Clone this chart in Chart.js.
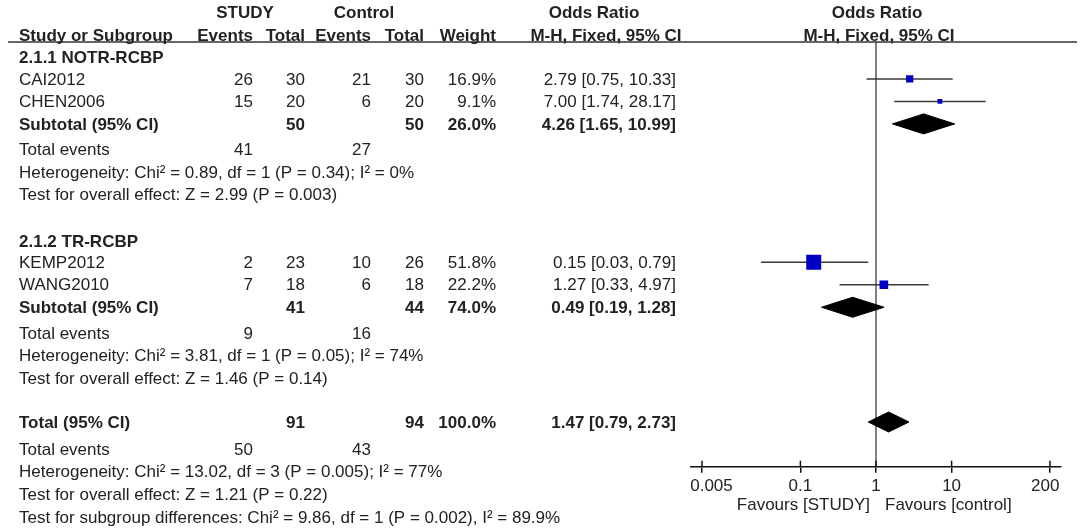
<!DOCTYPE html>
<html lang="en">
<head>
<meta charset="UTF-8">
<title>Forest plot - Odds Ratio</title>
<script src="https://cdn.jsdelivr.net/npm/chart.js"></script>
<style>
    html, body { margin: 0; padding: 0; background: #fff; }
    #wrap { width: 1084px; height: 530px; position: relative; }
</style>
</head>
<body>
<div id="wrap"><canvas id="forest"></canvas></div>

<script>
    // ---- data ----
    const studyNames = ['CAI2012', 'CHEN2006', 'KEMP2012', 'WANG2010'];
    const studyGroup = [0, 0, 1, 1];
    const studyEvents = [26, 15, 2, 7];
    const studyTotal = [30, 20, 23, 18];
    const controlEvents = [21, 6, 10, 6];
    const controlTotal = [30, 20, 26, 18];
    const weights = [16.9, 9.1, 51.8, 22.2];
    const oddsRatio = [2.79, 7.00, 0.15, 1.27];
    const ciLower = [0.75, 1.74, 0.03, 0.33];
    const ciUpper = [10.33, 28.17, 0.79, 4.97];

    const groupNames = ['2.1.1 NOTR-RCBP', '2.1.2 TR-RCBP'];
    const groupStudyTotal = [50, 41];
    const groupControlTotal = [50, 44];
    const groupStudyEvents = [41, 9];
    const groupControlEvents = [27, 16];
    const groupWeight = [26.0, 74.0];
    const groupOR = [4.26, 0.49];
    const groupLower = [1.65, 0.19];
    const groupUpper = [10.99, 1.28];
    const groupHet = [
        'Heterogeneity: Chi\u00b2 = 0.89, df = 1 (P = 0.34); I\u00b2 = 0%',
        'Heterogeneity: Chi\u00b2 = 3.81, df = 1 (P = 0.05); I\u00b2 = 74%'
    ];
    const groupEffect = [
        'Test for overall effect: Z = 2.99 (P = 0.003)',
        'Test for overall effect: Z = 1.46 (P = 0.14)'
    ];

    const totalCounts = [91, 94];      // study total, control total
    const totalEvents = [50, 43];
    const totalWeight = 100.0;
    const totalOR = [1.47, 0.79, 2.73]; // estimate, lower, upper
    const totalHet = 'Heterogeneity: Chi\u00b2 = 13.02, df = 3 (P = 0.005); I\u00b2 = 77%';
    const totalEffect = 'Test for overall effect: Z = 1.21 (P = 0.22)';
    const subgroupTest = 'Test for subgroup differences: Chi\u00b2 = 9.86, df = 1 (P = 0.002), I\u00b2 = 89.9%';

    const xTicks = [0.005, 0.1, 1, 10, 200];
    const xLimit = 280;

    // ---- layout ----
    const FONT = '"Liberation Sans", Arial, sans-serif';
    const FSIZE = 17;
    const TEXT = '#222';
    const BLUE = '#0000c4';
    const ROW_H = 22.5;
    const HEAD_Y = 35;      // pixel row of the column headers
    const RULE_Y = 42;
    const AXIS_Y = 466.7;
    const PLOT_L = 691, PLOT_R = 1061;
    const COL = { name: 19, ev1: 253, tot1: 305, ev2: 371, tot2: 424, wt: 496, or: 676 };

    // row positions, counted in text lines below the header
    const rows = { heading: [], study: [], subtotal: [], events: [], het: [], effect: [] };
    let line = 0;
    groupNames.forEach((g, gi) => {
        line += gi === 0 ? 1 : 2.05;
        rows.heading.push(line);
        line += 0.95;
        studyGroup.forEach((sg, si) => {
            if (sg === gi) { rows.study[si] = line; line += 1; }
        });
        rows.subtotal.push(line);
        line += 1.15; rows.events.push(line);
        line += 1; rows.het.push(line);
        line += 1; rows.effect.push(line);
    });
    const totalRow = line + 1.95;
    const totalEventsRow = totalRow + 1.2;
    const totalHetRow = totalEventsRow + 1;
    const totalEffectRow = totalHetRow + 1;
    const subgroupRow = totalEffectRow + 1.02;

    const yMin = (RULE_Y - HEAD_Y) / ROW_H;
    const yMax = (AXIS_Y - HEAD_Y) / ROW_H;
    const diamondHalf = 10 / ROW_H;

    function boxSide(w) {
        return 15 * Math.pow(w / 51.8, 0.65);
    }

    function diamond(lo, mid, hi, y) {
        return [
            { x: lo, y: y }, { x: mid, y: y - diamondHalf },
            { x: hi, y: y }, { x: mid, y: y + diamondHalf }, { x: lo, y: y }
        ];
    }

    function orText(or, lo, hi) {
        return `${or.toFixed(2)} [${lo.toFixed(2)}, ${hi.toFixed(2)}]`;
    }

    // ---- datasets ----
    const ciSets = studyNames.map((n, i) => ({
        label: n + ' CI',
        data: [{ x: ciLower[i], y: rows.study[i] }, { x: ciUpper[i], y: rows.study[i] }],
        showLine: true,
        borderColor: '#3a3a3a',
        borderWidth: 1.5,
        pointRadius: 0,
        order: 3
    }));

    const markerSet = {
        label: 'Studies',
        data: studyNames.map((n, i) => ({ x: oddsRatio[i], y: rows.study[i] })),
        pointStyle: 'rect',
        pointRadius: weights.map(w => boxSide(w) / Math.SQRT2),
        backgroundColor: BLUE,
        borderColor: BLUE,
        borderWidth: 0,
        order: 1
    };

    const diamondSets = groupNames.map((g, gi) => ({
        label: g + ' subtotal',
        data: diamond(groupLower[gi], groupOR[gi], groupUpper[gi], rows.subtotal[gi]),
        showLine: true,
        fill: 'shape',
        backgroundColor: '#000',
        borderColor: '#000',
        borderWidth: 1,
        pointRadius: 0,
        order: 2
    }));
    diamondSets.push({
        label: 'Total',
        data: diamond(totalOR[1], totalOR[0], totalOR[2], totalRow),
        showLine: true,
        fill: 'shape',
        backgroundColor: '#000',
        borderColor: '#000',
        borderWidth: 1,
        pointRadius: 0,
        order: 2
    });

    const nullLine = {
        label: 'No effect',
        data: [{ x: 1, y: yMin }, { x: 1, y: yMax }],
        showLine: true,
        borderColor: '#555',
        borderWidth: 1.5,
        pointRadius: 0,
        order: 4
    };

    // ---- table text, header rule, crossing ticks ----
    const tablePlugin = {
        id: 'forestTable',
        afterDraw(chart) {
            const ctx = chart.ctx;
            const ys = chart.scales.y;
            const xs = chart.scales.x;
            const py = (l) => ys.getPixelForValue(l) + 1;
            const put = (s, px, l, align, bold) => {
                ctx.font = (bold ? 'bold ' : '') + FSIZE + 'px ' + FONT;
                ctx.textAlign = align || 'left';
                ctx.textBaseline = 'middle';
                ctx.fillStyle = TEXT;
                ctx.fillText(String(s), px, py(l));
            };
            ctx.save();

            // header rule
            ctx.strokeStyle = '#333';
            ctx.lineWidth = 1.5;
            ctx.beginPath();
            ctx.moveTo(8, RULE_Y);
            ctx.lineTo(1077, RULE_Y);
            ctx.stroke();

            // tick marks poke above the axis too
            const bottom = chart.chartArea.bottom;
            ctx.strokeStyle = '#111';
            xTicks.forEach(v => {
                const px = xs.getPixelForValue(v);
                ctx.beginPath();
                ctx.moveTo(px, bottom - 6);
                ctx.lineTo(px, bottom);
                ctx.stroke();
            });

            // headers
            const onePx = xs.getPixelForValue(1);
            put('STUDY', 245, -1, 'center', true);
            put('Control', 364, -1, 'center', true);
            put('Odds Ratio', 594, -1, 'center', true);
            put('Odds Ratio', onePx + 1, -1, 'center', true);
            put('Study or Subgroup', COL.name, 0, 'left', true);
            put('Events', COL.ev1, 0, 'right', true);
            put('Total', COL.tot1, 0, 'right', true);
            put('Events', COL.ev2, 0, 'right', true);
            put('Total', COL.tot2, 0, 'right', true);
            put('Weight', COL.wt, 0, 'right', true);
            put('M-H, Fixed, 95% CI', 606, 0, 'center', true);
            put('M-H, Fixed, 95% CI', onePx + 3, 0, 'center', true);

            // studies
            studyNames.forEach((n, i) => {
                const r = rows.study[i];
                put(n, COL.name, r);
                put(studyEvents[i], COL.ev1, r, 'right');
                put(studyTotal[i], COL.tot1, r, 'right');
                put(controlEvents[i], COL.ev2, r, 'right');
                put(controlTotal[i], COL.tot2, r, 'right');
                put(weights[i].toFixed(1) + '%', COL.wt, r, 'right');
                put(orText(oddsRatio[i], ciLower[i], ciUpper[i]), COL.or, r, 'right');
            });

            // subgroups
            groupNames.forEach((g, gi) => {
                put(g, COL.name, rows.heading[gi], 'left', true);
                const r = rows.subtotal[gi];
                put('Subtotal (95% CI)', COL.name, r, 'left', true);
                put(groupStudyTotal[gi], COL.tot1, r, 'right', true);
                put(groupControlTotal[gi], COL.tot2, r, 'right', true);
                put(groupWeight[gi].toFixed(1) + '%', COL.wt, r, 'right', true);
                put(orText(groupOR[gi], groupLower[gi], groupUpper[gi]), COL.or, r, 'right', true);
                put('Total events', COL.name, rows.events[gi]);
                put(groupStudyEvents[gi], COL.ev1, rows.events[gi], 'right');
                put(groupControlEvents[gi], COL.ev2, rows.events[gi], 'right');
                put(groupHet[gi], COL.name, rows.het[gi]);
                put(groupEffect[gi], COL.name, rows.effect[gi]);
            });

            // overall
            put('Total (95% CI)', COL.name, totalRow, 'left', true);
            put(totalCounts[0], COL.tot1, totalRow, 'right', true);
            put(totalCounts[1], COL.tot2, totalRow, 'right', true);
            put(totalWeight.toFixed(1) + '%', COL.wt, totalRow, 'right', true);
            put(orText(totalOR[0], totalOR[1], totalOR[2]), COL.or, totalRow, 'right', true);
            put('Total events', COL.name, totalEventsRow);
            put(totalEvents[0], COL.ev1, totalEventsRow, 'right');
            put(totalEvents[1], COL.ev2, totalEventsRow, 'right');
            put(totalHet, COL.name, totalHetRow);
            put(totalEffect, COL.name, totalEffectRow);
            put(subgroupTest, COL.name, subgroupRow);

            // favours labels under the axis
            ctx.font = FSIZE + 'px ' + FONT;
            ctx.fillStyle = TEXT;
            ctx.textBaseline = 'middle';
            ctx.textAlign = 'right';
            ctx.fillText('Favours [STUDY]', onePx - 6, bottom + 39);
            ctx.textAlign = 'left';
            ctx.fillText('Favours [control]', onePx + 9, bottom + 39);

            ctx.restore();
        }
    };

    new Chart(document.getElementById('forest'), {
        type: 'scatter',
        data: { datasets: [nullLine, ...ciSets, ...diamondSets, markerSet] },
        options: {
            responsive: true,
            maintainAspectRatio: false,
            animation: false,
            events: [],
            layout: {
                padding: { left: PLOT_L, right: 1084 - PLOT_R, top: RULE_Y, bottom: 530 - AXIS_Y - 32 }
            },
            plugins: {
                legend: { display: false },
                tooltip: { enabled: false }
            },
            scales: {
                x: {
                    type: 'logarithmic',
                    min: 1 / xLimit,
                    max: xLimit,
                    bounds: 'data',
                    position: 'bottom',
                    afterBuildTicks: (s) => { s.ticks = xTicks.map(v => ({ value: v })); },
                    afterFit: (s) => { s.height = 32; },
                    grid: { display: true, drawOnChartArea: false, drawTicks: true, tickLength: 6, color: '#111', lineWidth: 1.5 },
                    border: { display: true, color: '#111', width: 1.5 },
                    ticks: {
                        color: TEXT,
                        font: { family: FONT, size: FSIZE },
                        padding: 3,
                        maxRotation: 0,
                        autoSkip: false,
                        // end labels sit inside the axis line, like the original
                        callback: (v, i, t) => i === 0 ? '    ' + v : (i === t.length - 1 ? v + '  ' : String(v))
                    }
                },
                y: {
                    type: 'linear',
                    reverse: true,
                    min: yMin,
                    max: yMax,
                    bounds: 'data',
                    display: false
                }
            }
        },
        plugins: [tablePlugin]
    });
</script>
</body>
</html>
